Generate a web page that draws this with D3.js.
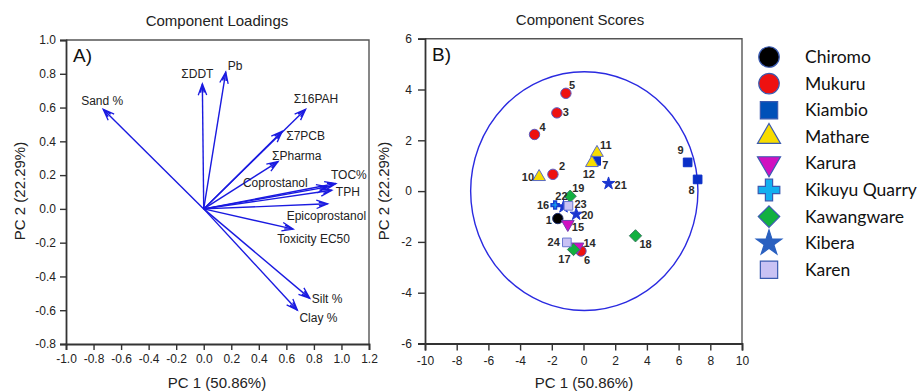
<!DOCTYPE html>
<html>
<head>
<meta charset="utf-8">
<script src="https://cdn.jsdelivr.net/npm/d3@7"></script>
<style>
  body { margin: 0; background: #fff; }
  text { font-family: "Liberation Sans", Arial, sans-serif; }
</style>
</head>
<body>
<div id="chart"></div>
<script>
// ---- loadings (panel A) ----
var loadNames = ['Sand %', '\u03A3DDT', 'Pb', '\u03A316PAH', '\u03A37PCB', '\u03A3Pharma', 'Coprostanol',
  'TOC%', 'TPH', 'Epicoprostanol', 'Toxicity EC50', 'Silt %', 'Clay %'];
var loadPC1 = [-0.73, -0.01, 0.16, 0.74, 0.57, 0.54, 0.90, 0.96, 0.93, 0.90, 0.65, 0.77, 0.68];
var loadPC2 = [0.59, 0.74, 0.81, 0.59, 0.46, 0.28, 0.13, 0.15, 0.11, 0.03, -0.12, -0.53, -0.60];
var loadXTicks = [-1.0, -0.8, -0.6, -0.4, -0.2, 0.0, 0.2, 0.4, 0.6, 0.8, 1.0, 1.2];
var loadYTicks = [-0.8, -0.6, -0.4, -0.2, 0.0, 0.2, 0.4, 0.6, 0.8, 1.0];

// ---- scores (panel B) ----
var siteNames = ['Chiromo', 'Mukuru', 'Kiambio', 'Mathare', 'Karura', 'Kikuyu Quarry', 'Kawangware', 'Kibera', 'Karen'];
var scoreIds  = [1, 2, 3, 4, 5, 6, 7, 8, 9, 10, 11, 12, 14, 15, 16, 17, 18, 19, 20, 21, 22, 23, 24];
var scoreSite = [0, 1, 1, 1, 1, 1, 2, 2, 2, 3, 3, 3, 4, 4, 5, 6, 6, 6, 7, 7, 7, 8, 8];
var scorePC1  = [-1.62, -1.93, -1.68, -3.09, -1.11, -0.16, 0.80, 7.20, 6.57, -2.80, 0.85, 0.53,
  -0.38, -0.99, -1.79, -0.63, 3.28, -0.84, -0.46, 1.58, -1.26, -0.95, -1.05];
var scorePC2  = [-1.08, 0.66, 3.08, 2.23, 3.85, -2.36, 1.19, 0.46, 1.13, 0.56, 1.51, 1.11,
  -2.19, -1.30, -0.55, -2.30, -1.76, -0.20, -0.91, 0.30, -0.62, -0.58, -2.02];
var scoreXTicks = [-10, -8, -6, -4, -2, 0, 2, 4, 6, 8, 10];
var scoreYTicks = [-6, -4, -2, 0, 2, 4, 6];
var ellipseCenter = [0.05, 0];
var ellipseRadii = [7.17, 4.70];

// site symbol styles
var siteShape  = ['circle', 'circle', 'square', 'triangle', 'down', 'cross', 'diamond', 'star', 'square'];
var siteFill   = ['#000000', '#ee1111', '#0a2fc8', '#f7dc00', '#d010c0', '#12b0f0', '#12b040', '#1a36d0', '#c9c2f4'];
var siteStroke = ['#203070', '#5a5ac0', '#0a2fc8', '#5a6ac0', '#7040b0', '#1a40d0', '#3a7a60', '#1a36d0', '#6a78d0'];

// label placement (pixel offsets from arrow tip / point)
var loadLabelPos = {
  'Sand %': [-1, -4, 'middle'], '\u03A3DDT': [-5, -6, 'middle'], 'Pb': [2, -2, 'start'],
  '\u03A316PAH': [-12, -6, 'start'], '\u03A37PCB': [4, 9, 'start'], '\u03A3Pharma': [-6, -2, 'start'],
  'Coprostanol': [-20, 0, 'end'], 'TOC%': [-5, -5, 'start'], 'TPH': [4, 6, 'start'],
  'Epicoprostanol': [-41, 16, 'start'], 'Toxicity EC50': [-16, 14, 'start'],
  'Silt %': [2, 5, 'start'], 'Clay %': [2, 12, 'start']
};
var scoreLabelPos = {
  1: [-6, 5, 'end'], 2: [6, -4, 'start'], 3: [6, 3, 'start'], 4: [5, -3, 'start'], 5: [3, -4, 'start'],
  6: [3, 13, 'start'], 7: [6, 8, 'start'], 8: [-3, 15, 'end'], 9: [-4, -8, 'end'], 10: [-5, 4, 'end'],
  11: [3, -4, 'start'], 12: [3, 15, 'end'], 14: [6, 0, 'start'], 15: [4, 7, 'start'], 16: [-6, 4, 'end'],
  17: [-3, 13, 'end'], 18: [4, 12, 'start'], 19: [2, -4, 'start'], 20: [5, 5, 'start'], 21: [6, 6, 'start'],
  22: [4, -7, 'end'], 23: [6, 2, 'start'], 24: [-7, 4, 'end']
};

var svg = d3.select('#chart').append('svg')
  .attr('width', 921)
  .attr('height', 392);

// square diamond (equal width and height)
var symbolDiamondSq = {
  draw: function (ctx, size) {
    var r = Math.sqrt(size / 2);
    ctx.moveTo(0, -r);
    ctx.lineTo(r, 0);
    ctx.lineTo(0, r);
    ctx.lineTo(-r, 0);
    ctx.closePath();
  }
};

function symbolFor(shape) {
  if (shape === 'circle') return d3.symbolCircle;
  if (shape === 'square') return d3.symbolSquare;
  if (shape === 'triangle' || shape === 'down') return d3.symbolTriangle;
  if (shape === 'diamond') return symbolDiamondSq;
  if (shape === 'star') return d3.symbolStar;
  return d3.symbolCross;
}

function drawFrame(g, x, y, xTicks, yTicks, fmt, tickLen, pad) {
  var x0 = x.range()[0], x1 = x.range()[1], y0 = y.range()[0], y1 = y.range()[1];
  // top + right frame
  g.append('path')
    .attr('d', 'M' + x0 + ',' + y1 + 'H' + x1 + 'V' + y0)
    .attr('fill', 'none').attr('stroke', '#555').attr('stroke-width', 1.4);
  var ax = g.append('g').attr('transform', 'translate(0,' + y0 + ')')
    .call(d3.axisBottom(x).tickValues(xTicks).tickFormat(fmt).tickSizeOuter(0).tickSize(tickLen).tickPadding(pad));
  var ay = g.append('g').attr('transform', 'translate(' + x0 + ',0)')
    .call(d3.axisLeft(y).tickValues(yTicks).tickFormat(fmt).tickSizeOuter(0).tickSize(tickLen).tickPadding(pad));
  [ax, ay].forEach(function (a) {
    a.select('.domain').attr('stroke', '#333').attr('stroke-width', 1.8);
    a.selectAll('.tick line').attr('stroke', '#333').attr('stroke-width', 1.4);
    a.selectAll('.tick text').attr('fill', '#222').style('font-size', '12px')
      .style('font-family', '"Liberation Sans", Arial, sans-serif');
  });
}

// ================= Panel A =================
var xA = d3.scaleLinear().domain([-1.0, 1.2]).range([66, 369]);
var yA = d3.scaleLinear().domain([-0.8, 1.0]).range([344, 40]);
var gA = svg.append('g');

drawFrame(gA, xA, yA, loadXTicks, loadYTicks, function (d) { return d.toFixed(1); }, 6, 4);

gA.append('text').attr('x', 217).attr('y', 26).attr('text-anchor', 'middle')
  .style('font-size', '15px').attr('fill', '#222').text('Component Loadings');
gA.append('text').attr('x', 73).attr('y', 62)
  .style('font-size', '19px').attr('fill', '#111').text('A)');
gA.append('text').attr('x', 217).attr('y', 388).attr('text-anchor', 'middle')
  .style('font-size', '15px').attr('fill', '#222').text('PC 1 (50.86%)');
gA.append('text').attr('transform', 'translate(25,191) rotate(-90)').attr('text-anchor', 'middle')
  .style('font-size', '15px').attr('fill', '#222').text('PC 2 (22.29%)');

var ox = xA(0), oy = yA(0);
var arrows = gA.selectAll('.arrow')
  .data(loadNames)
  .enter()
  .append('g');

arrows.append('line')
  .attr('x1', ox).attr('y1', oy)
  .attr('x2', function (d, i) { return xA(loadPC1[i]); })
  .attr('y2', function (d, i) { return yA(loadPC2[i]); })
  .attr('stroke', '#1a1ae0').attr('stroke-width', 1.4);

arrows.append('path')
  .attr('d', function (d, i) {
    var tx = xA(loadPC1[i]), ty = yA(loadPC2[i]);
    var a = Math.atan2(ty - oy, tx - ox);
    var out = '';
    [[12, 0.36], [9, 0.2]].forEach(function (h) {
      var L = h[0], t = h[1];
      out += 'M' + (tx - L * Math.cos(a - t)) + ',' + (ty - L * Math.sin(a - t)) +
        'L' + tx + ',' + ty +
        'L' + (tx - L * Math.cos(a + t)) + ',' + (ty - L * Math.sin(a + t));
    });
    return out;
  })
  .attr('fill', 'none').attr('stroke', '#1a1ae0').attr('stroke-width', 1.3);

arrows.append('text')
  .attr('x', function (d, i) { return xA(loadPC1[i]) + loadLabelPos[d][0]; })
  .attr('y', function (d, i) { return yA(loadPC2[i]) + loadLabelPos[d][1]; })
  .attr('text-anchor', function (d) { return loadLabelPos[d][2]; })
  .style('font-size', '12px').attr('fill', '#222')
  .text(function (d) { return d; });

// ================= Panel B =================
var xB = d3.scaleLinear().domain([-10, 10]).range([425, 742]);
var yB = d3.scaleLinear().domain([-6, 6]).range([343.5, 38.7]);
var gB = svg.append('g');

drawFrame(gB, xB, yB, scoreXTicks, scoreYTicks, function (d) { return d; }, 7, 6);

gB.append('text').attr('x', 580).attr('y', 25).attr('text-anchor', 'middle')
  .style('font-size', '15px').attr('fill', '#222').text('Component Scores');
gB.append('text').attr('x', 432).attr('y', 61)
  .style('font-size', '19px').attr('fill', '#111').text('B)');
gB.append('text').attr('x', 584).attr('y', 388).attr('text-anchor', 'middle')
  .style('font-size', '15px').attr('fill', '#222').text('PC 1 (50.86%)');
gB.append('text').attr('transform', 'translate(389,191) rotate(-90)').attr('text-anchor', 'middle')
  .style('font-size', '15px').attr('fill', '#222').text('PC 2 (22.29%)');

gB.append('ellipse')
  .attr('cx', xB(ellipseCenter[0])).attr('cy', yB(ellipseCenter[1]))
  .attr('rx', xB(ellipseRadii[0]) - xB(0)).attr('ry', yB(0) - yB(ellipseRadii[1]))
  .attr('fill', 'none').attr('stroke', '#2a2ae0').attr('stroke-width', 1.4);

var plotSizes = { circle: 85, square: 75, triangle: 70, down: 70, cross: 35, diamond: 75, star: 48 };

var pts = gB.selectAll('.pt')
  .data(scoreIds)
  .enter()
  .append('g')
  .attr('transform', function (d, i) { return 'translate(' + xB(scorePC1[i]) + ',' + yB(scorePC2[i]) + ')'; });

pts.append('path')
  .attr('d', function (d, i) {
    var s = siteShape[scoreSite[i]];
    return d3.symbol().type(symbolFor(s)).size(plotSizes[s])();
  })
  .attr('transform', function (d, i) { return siteShape[scoreSite[i]] === 'down' ? 'rotate(180)' : null; })
  .attr('fill', function (d, i) { return siteFill[scoreSite[i]]; })
  .attr('stroke', function (d, i) { return siteStroke[scoreSite[i]]; })
  .attr('stroke-width', function (d, i) { return siteShape[scoreSite[i]] === 'cross' ? 1.6 : 1; });

pts.append('text')
  .attr('x', function (d) { return scoreLabelPos[d][0]; })
  .attr('y', function (d) { return scoreLabelPos[d][1]; })
  .attr('text-anchor', function (d) { return scoreLabelPos[d][2]; })
  .style('font-size', '11px').style('font-weight', 'bold').attr('fill', '#2a2a2a')
  .text(function (d) { return d; });

// ================= Legend =================
var legendSizes = { circle: 330, square: 300, triangle: 230, down: 230, cross: 260, diamond: 230, star: 200 };
var legend = svg.selectAll('.leg')
  .data(siteNames)
  .enter()
  .append('g')
  .attr('transform', function (d, i) { return 'translate(769,' + (57 + i * 26.6) + ')'; });

legend.append('path')
  .attr('d', function (d, i) {
    return d3.symbol().type(symbolFor(siteShape[i])).size(legendSizes[siteShape[i]])();
  })
  .attr('transform', function (d, i) { return siteShape[i] === 'down' ? 'rotate(180)' : null; })
  .attr('fill', function (d, i) { return i === 2 ? '#0050b8' : (i === 7 ? '#2a60c0' : siteFill[i]); })
  .attr('stroke', function (d, i) { return i === 7 ? '#2a60c0' : '#3a5ab0'; })
  .attr('stroke-width', 1.2);

legend.append('text')
  .attr('x', 36).attr('y', 6)
  .style('font-family', 'Lato, "Open Sans", sans-serif')
  .style('font-size', '17.5px').attr('fill', '#111')
  .text(function (d) { return d; });
</script>
</body>
</html>
